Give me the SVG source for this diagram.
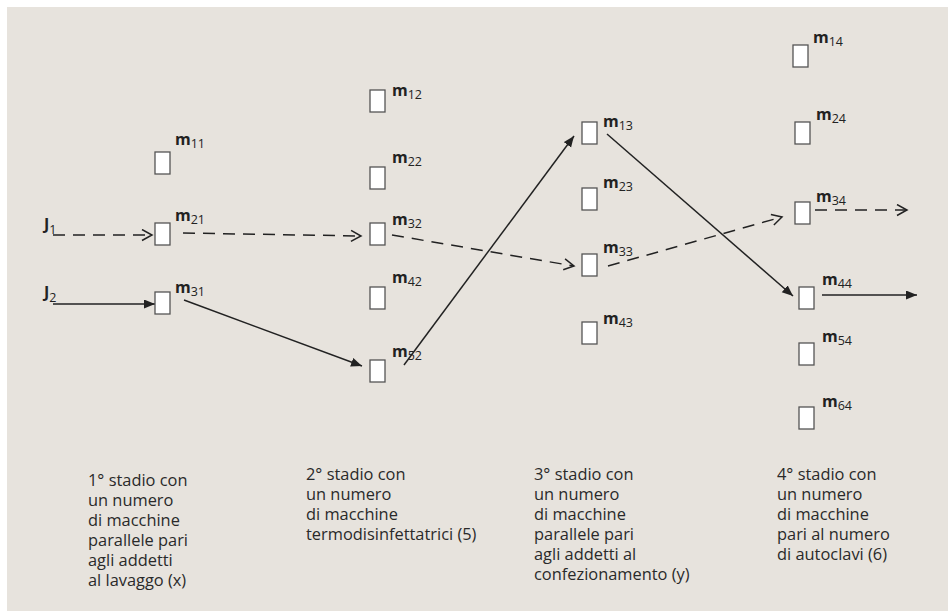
<svg xmlns="http://www.w3.org/2000/svg" width="948" height="611" viewBox="0 0 948 611">
<defs>
<style>
.box{fill:#ffffff;stroke:#555555;stroke-width:1.3}
.lbl{font-family:"Open Sans","Liberation Sans",sans-serif;font-size:16px;font-weight:bold;fill:#222222}
.sub{font-size:12.5px;font-weight:normal}
.cap{font-family:"Open Sans","Liberation Sans",sans-serif;font-size:16.4px;fill:#2a2a2a}
.ln{fill:none;stroke:#222222;stroke-width:1.5}
.dash{stroke-dasharray:12 8}
</style>
<marker id="af" markerUnits="userSpaceOnUse" markerWidth="12" markerHeight="10" refX="11" refY="4.5" orient="auto">
<path d="M0,0 L11,4.5 L0,9 z" fill="#222222"/>
</marker>
<marker id="ao" markerUnits="userSpaceOnUse" markerWidth="14" markerHeight="14" refX="11" refY="6.5" orient="auto">
<path d="M1,1 L11,6.5 L1,12" fill="none" stroke="#222222" stroke-width="1.5"/>
</marker>
</defs>
<rect x="7" y="7" width="941" height="604" fill="#e7e3dd"/>
<g id="connectors">
<line class="ln dash" x1="53" y1="235" x2="152" y2="235" marker-end="url(#ao)"/>
<line class="ln" x1="53" y1="304" x2="155" y2="304" marker-end="url(#af)"/>
<line class="ln dash" x1="183" y1="233" x2="361" y2="236" marker-end="url(#ao)"/>
<line class="ln" x1="184" y1="300" x2="362" y2="366" marker-end="url(#af)"/>
<line class="ln dash" x1="392" y1="235" x2="574" y2="266" marker-end="url(#ao)"/>
<line class="ln" x1="404" y1="365" x2="574" y2="136" marker-end="url(#af)"/>
<line class="ln" x1="607" y1="134" x2="793" y2="296" marker-end="url(#af)"/>
<line class="ln dash" x1="608" y1="266" x2="782" y2="217" marker-end="url(#ao)"/>
<line class="ln dash" x1="815" y1="210" x2="907" y2="210" marker-end="url(#ao)"/>
<line class="ln" x1="822" y1="295" x2="917" y2="295" marker-end="url(#af)"/>
</g>
<g id="J1"><text class="lbl" x="44" y="230">J<tspan class="sub" dy="4">1</tspan></text></g>
<g id="J2"><text class="lbl" x="44" y="298">J<tspan class="sub" dy="4">2</tspan></text></g>
<g id="m11"><rect class="box" x="155" y="152" width="15" height="22"/><text class="lbl" x="175" y="145">m<tspan class="sub" dy="3">11</tspan></text></g>
<g id="m21"><rect class="box" x="155" y="223" width="15" height="22"/><text class="lbl" x="175" y="221">m<tspan class="sub" dy="3">21</tspan></text></g>
<g id="m31"><rect class="box" x="155" y="292" width="15" height="22"/><text class="lbl" x="175" y="293">m<tspan class="sub" dy="3">31</tspan></text></g>
<g id="m12"><rect class="box" x="370" y="90" width="15" height="22"/><text class="lbl" x="392" y="96">m<tspan class="sub" dy="3">12</tspan></text></g>
<g id="m22"><rect class="box" x="370" y="167" width="15" height="22"/><text class="lbl" x="392" y="163">m<tspan class="sub" dy="3">22</tspan></text></g>
<g id="m32"><rect class="box" x="370" y="223" width="15" height="22"/><text class="lbl" x="392" y="225">m<tspan class="sub" dy="3">32</tspan></text></g>
<g id="m42"><rect class="box" x="370" y="287" width="15" height="22"/><text class="lbl" x="392" y="283">m<tspan class="sub" dy="3">42</tspan></text></g>
<g id="m52"><rect class="box" x="370" y="360" width="15" height="22"/><text class="lbl" x="392" y="357">m<tspan class="sub" dy="3">52</tspan></text></g>
<g id="m13"><rect class="box" x="582" y="122" width="15" height="22"/><text class="lbl" x="603" y="127">m<tspan class="sub" dy="3">13</tspan></text></g>
<g id="m23"><rect class="box" x="582" y="188" width="15" height="22"/><text class="lbl" x="603" y="188">m<tspan class="sub" dy="3">23</tspan></text></g>
<g id="m33"><rect class="box" x="582" y="254" width="15" height="22"/><text class="lbl" x="603" y="253">m<tspan class="sub" dy="3">33</tspan></text></g>
<g id="m43"><rect class="box" x="582" y="322" width="15" height="22"/><text class="lbl" x="603" y="324">m<tspan class="sub" dy="3">43</tspan></text></g>
<g id="m14"><rect class="box" x="793" y="45" width="15" height="22"/><text class="lbl" x="813" y="43">m<tspan class="sub" dy="3">14</tspan></text></g>
<g id="m24"><rect class="box" x="795" y="122" width="15" height="22"/><text class="lbl" x="816" y="120">m<tspan class="sub" dy="3">24</tspan></text></g>
<g id="m34"><rect class="box" x="795" y="202" width="15" height="22"/><text class="lbl" x="816" y="202">m<tspan class="sub" dy="3">34</tspan></text></g>
<g id="m44"><rect class="box" x="799" y="287" width="15" height="22"/><text class="lbl" x="822" y="285">m<tspan class="sub" dy="3">44</tspan></text></g>
<g id="m54"><rect class="box" x="799" y="343" width="15" height="22"/><text class="lbl" x="822" y="342">m<tspan class="sub" dy="3">54</tspan></text></g>
<g id="m64"><rect class="box" x="799" y="407" width="15" height="22"/><text class="lbl" x="822" y="407">m<tspan class="sub" dy="3">64</tspan></text></g>
<g id="stage1"><text class="cap" x="88" y="486"><tspan x="88">1° stadio con</tspan><tspan x="88" dy="20">un numero</tspan><tspan x="88" dy="20">di macchine</tspan><tspan x="88" dy="20">parallele pari</tspan><tspan x="88" dy="20">agli addetti</tspan><tspan x="88" dy="20">al lavaggo (x)</tspan></text></g>
<g id="stage2"><text class="cap" x="306" y="480"><tspan x="306">2° stadio con</tspan><tspan x="306" dy="20">un numero</tspan><tspan x="306" dy="20">di macchine</tspan><tspan x="306" dy="20">termodisinfettatrici (5)</tspan></text></g>
<g id="stage3"><text class="cap" x="534" y="480"><tspan x="534">3° stadio con</tspan><tspan x="534" dy="20">un numero</tspan><tspan x="534" dy="20">di macchine</tspan><tspan x="534" dy="20">parallele pari</tspan><tspan x="534" dy="20">agli addetti al</tspan><tspan x="534" dy="20">confezionamento (y)</tspan></text></g>
<g id="stage4"><text class="cap" x="777" y="480"><tspan x="777">4° stadio con</tspan><tspan x="777" dy="20">un numero</tspan><tspan x="777" dy="20">di macchine</tspan><tspan x="777" dy="20">pari al numero</tspan><tspan x="777" dy="20">di autoclavi (6)</tspan></text></g>
</svg>
